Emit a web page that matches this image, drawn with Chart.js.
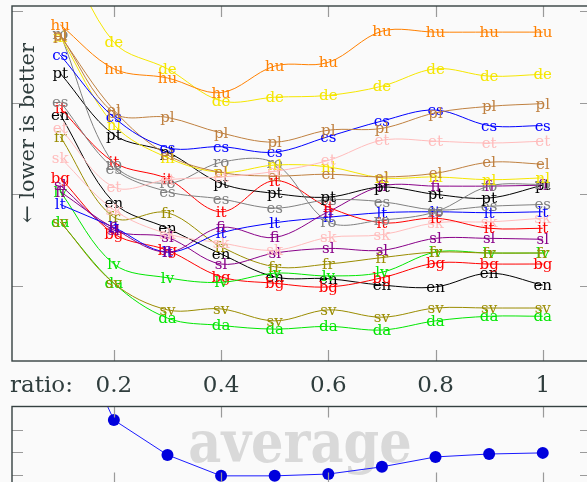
<!DOCTYPE html>
<html><head><meta charset="utf-8">
<script src="https://cdn.jsdelivr.net/npm/chart.js@4.4.1/dist/chart.umd.min.js"></script>
<style>
html,body{margin:0;padding:0;background:#fafafa;overflow:hidden;width:587px;height:482px;}
#top{position:absolute;left:0;top:0;width:600px;height:400px;}
#bot{position:absolute;left:0;top:400px;width:600px;height:100px;}
</style></head><body>
<canvas id="top" width="600" height="400"></canvas>
<canvas id="bot" width="600" height="100"></canvas>
<script>
// ---- data ----
const ratios = [0.1, 0.2, 0.3, 0.4, 0.5, 0.6, 0.7, 0.8, 0.9, 1.0];
const languages = ['hu','de','pl','cs','et','el','nl','ro','pt','es','it','fi','lt','sk','sl','fr','lv','bg','en','sv','da'];
const hu = [38.5, 33.7, 32.7, 31.1, 34.0, 34.4, 37.8, 37.7, 37.7, 37.7];
const de = [47.5, 36.6, 33.7, 30.2, 30.6, 30.8, 31.8, 33.7, 32.9, 33.1];
const pl = [37.4, 28.9, 28.4, 26.7, 25.7, 27.0, 27.2, 28.9, 29.6, 29.9];
const cs = [35.2, 28.4, 25.1, 25.2, 24.6, 26.3, 28.0, 29.2, 27.5, 27.5];
const pt = [33.2, 26.5, 24.6, 21.2, 20.1, 19.7, 20.8, 20.0, 19.6, 21.0];
const es = [30.1, 22.8, 20.3, 19.5, 18.5, 19.4, 19.2, 18.3, 18.7, 18.9];
const ro = [37.5, 23.3, 21.2, 23.5, 23.4, 17.0, 17.2, 18.1, 20.9, 21.1];
const it = [29.4, 23.5, 21.7, 18.1, 21.5, 18.6, 16.9, 17.4, 16.3, 16.3];
const en = [28.7, 19.1, 16.3, 13.5, 11.0, 10.8, 10.1, 9.9, 11.4, 10.1];
const fr = [26.3, 17.5, 18.0, 14.3, 12.1, 12.4, 13.1, 13.7, 13.6, 13.6];
const sk = [24.0, 18.3, 15.7, 14.7, 13.9, 15.3, 15.6, 16.9, 17.0, 17.4];
const et = [27.2, 20.8, 21.6, 21.9, 22.5, 23.7, 25.9, 25.8, 25.6, 25.8];
const el = [37.3, 29.2, 24.3, 22.4, 22.0, 22.2, 21.9, 22.3, 23.5, 23.3];
const nl = [37.2, 27.6, 24.0, 22.4, 23.2, 23.0, 21.8, 21.9, 21.6, 21.8];
const fi = [20.3, 16.3, 13.7, 16.4, 15.3, 18.1, 20.9, 20.9, 20.9, 21.0];
const sl = [21.0, 16.1, 15.3, 12.4, 13.6, 14.1, 13.9, 15.2, 15.2, 15.1];
const lt = [18.9, 16.4, 13.7, 15.8, 16.9, 17.5, 18.0, 18.1, 18.0, 18.1];
const bg = [21.8, 15.7, 13.9, 11.0, 10.3, 9.9, 10.9, 12.5, 12.4, 12.4];
const lv = [20.3, 12.4, 10.9, 10.4, 11.4, 11.1, 11.5, 13.7, 13.6, 13.6];
const da = [17.0, 10.3, 6.5, 5.7, 5.3, 5.6, 5.2, 6.2, 6.7, 6.7];
const sv = [17.0, 10.3, 7.4, 7.5, 6.2, 7.4, 6.6, 7.6, 7.6, 7.6];
const average = [8.6, 3.44, 1.89, 0.96, 0.96, 1.04, 1.36, 1.80, 1.93, 1.98];

const xTicks = [0.2, 0.4, 0.6, 0.8, 1.0];
const xTickLabels = ['0.2', '0.4', '0.6', '0.8', '1'];
const yTicksTop = [10, 20, 30, 40];
const yTicksBottom = [1, 2, 3];
const xAxisName = 'ratio:';
const yAxisName = '\u2190 lower is better';
const panelTitle = 'average';

const seriesByLang = {hu, de, pl, cs, et, el, nl, ro, pt, es, it, fi, lt, sk, sl, fr, lv, bg, en, sv, da};

// ---- styles ----
const colorOf = {
  hu:'#ff8000', de:'#f5e600', nl:'#f5e600', pl:'#bf8040', el:'#bf8040',
  cs:'#0000ff', lt:'#0000ff', es:'#808080', ro:'#808080', pt:'#000000', en:'#000000',
  it:'#ff0000', bg:'#ff0000', fr:'#9a8c00', sv:'#9a8c00', sk:'#ffbcbc', et:'#ffbcbc',
  sl:'#880088', fi:'#880088', lv:'#00e600', da:'#00e600'
};
const FRAME = '#354141';
const TICK = '#9a9a9a';
const TEXT = '#2f3d3d';
const SERIF = '"DejaVu Serif", serif';

function framePlugin(yTicks) {
  return {
    id: 'frame',
    afterDraw(chart) {
      const {ctx, chartArea: a, scales: {x, y}} = chart;
      ctx.save();
      ctx.strokeStyle = TICK; ctx.lineWidth = 1.2;
      ctx.beginPath();
      for (const t of xTicks) {
        const px = Math.round(x.getPixelForValue(t)) + 0.5;
        ctx.moveTo(px, a.top); ctx.lineTo(px, a.top + 11);
        ctx.moveTo(px, a.bottom); ctx.lineTo(px, a.bottom - 11);
      }
      for (const t of yTicks) {
        const py = Math.round(y.getPixelForValue(t)) + 0.5;
        ctx.moveTo(a.left, py); ctx.lineTo(a.left + 11, py);
        ctx.moveTo(a.right, py); ctx.lineTo(a.right - 11, py);
      }
      ctx.stroke();
      ctx.strokeStyle = FRAME; ctx.lineWidth = 1.4;
      ctx.strokeRect(a.left, a.top, a.right - a.left, a.bottom - a.top);
      ctx.restore();
    }
  };
}

const pointLabelPlugin = {
  id: 'pointLabels',
  afterDatasetDraw(chart, args) {
    const ds = chart.data.datasets[args.index];
    const {ctx, chartArea: a} = chart;
    ctx.save();
    ctx.beginPath(); ctx.rect(a.left, a.top, a.right - a.left, a.bottom - a.top); ctx.clip();
    ctx.font = '15px ' + SERIF;
    ctx.fillStyle = ds.borderColor;
    ctx.textAlign = 'center'; ctx.textBaseline = 'alphabetic';
    for (const p of args.meta.data) ctx.fillText(ds.label, p.x, p.y + 5);
    ctx.restore();
  }
};

const axisTextPlugin = {
  id: 'axisText',
  afterDraw(chart) {
    const {ctx, chartArea: a, scales: {x}} = chart;
    ctx.save();
    ctx.fillStyle = TEXT;
    ctx.font = '23px ' + SERIF;
    ctx.textBaseline = 'alphabetic';
    ctx.textAlign = 'center';
    xTicks.forEach((t, i) => ctx.fillText(xTickLabels[i], x.getPixelForValue(t), a.bottom + 31));
    ctx.textAlign = 'left';
    ctx.fillText(xAxisName, 10, a.bottom + 31);
    ctx.translate(29, 133);
    ctx.rotate(-Math.PI / 2);
    ctx.font = '21px ' + SERIF;
    ctx.textAlign = 'center'; ctx.textBaseline = 'middle';
    ctx.fillText(yAxisName, 0, 0);
    ctx.restore();
  }
};

const watermarkPlugin = {
  id: 'watermark',
  beforeDatasetsDraw(chart) {
    const {ctx} = chart;
    ctx.save();
    ctx.fillStyle = '#d9d9d9';
    ctx.font = 'bold 58px ' + SERIF;
    ctx.textAlign = 'center'; ctx.textBaseline = 'alphabetic';
    ctx.translate(300, 62);
    ctx.scale(0.88, 1);
    ctx.fillText(panelTitle, 0, 0);
    ctx.restore();
  }
};

Chart.defaults.font.family = SERIF;

const topDatasets = languages.map(code => ({
  label: code,
  data: ratios.map((r, i) => ({x: r, y: seriesByLang[code][i]})),
  borderColor: colorOf[code],
  borderWidth: 1,
  pointRadius: 0,
  tension: 0.35,
  fill: false
}));

new Chart(document.getElementById('top'), {
  type: 'line',
  data: {datasets: topDatasets},
  options: {
    responsive: false, animation: false, devicePixelRatio: 1,
    layout: {padding: {left: 12, top: 6, right: 9, bottom: 39}},
    elements: {line: {capBezierPoints: false}},
    plugins: {legend: {display: false}, tooltip: {enabled: false}},
    scales: {
      x: {type: 'linear', min: 0.01, max: 1.09, display: false},
      y: {type: 'linear', min: 1.82, max: 40.55, display: false}
    }
  },
  plugins: [pointLabelPlugin, framePlugin(yTicksTop), axisTextPlugin]
});

new Chart(document.getElementById('bot'), {
  type: 'line',
  data: {datasets: [{
    label: panelTitle,
    data: ratios.map((r, i) => ({x: r, y: average[i]})),
    borderColor: '#1a1aff',
    borderWidth: 1,
    pointRadius: 6,
    pointBackgroundColor: '#0000dd',
    pointBorderWidth: 0,
    tension: 0,
    fill: false
  }]},
  options: {
    responsive: false, animation: false, devicePixelRatio: 1,
    layout: {padding: {left: 12, top: 6.5, right: 9, bottom: 16.5}},
    plugins: {legend: {display: false}, tooltip: {enabled: false}},
    scales: {
      x: {type: 'linear', min: 0.01, max: 1.09, display: false},
      y: {type: 'linear', min: 0.62, max: 4.04, display: false}
    }
  },
  plugins: [watermarkPlugin, framePlugin(yTicksBottom)]
});
</script>
</body></html>
